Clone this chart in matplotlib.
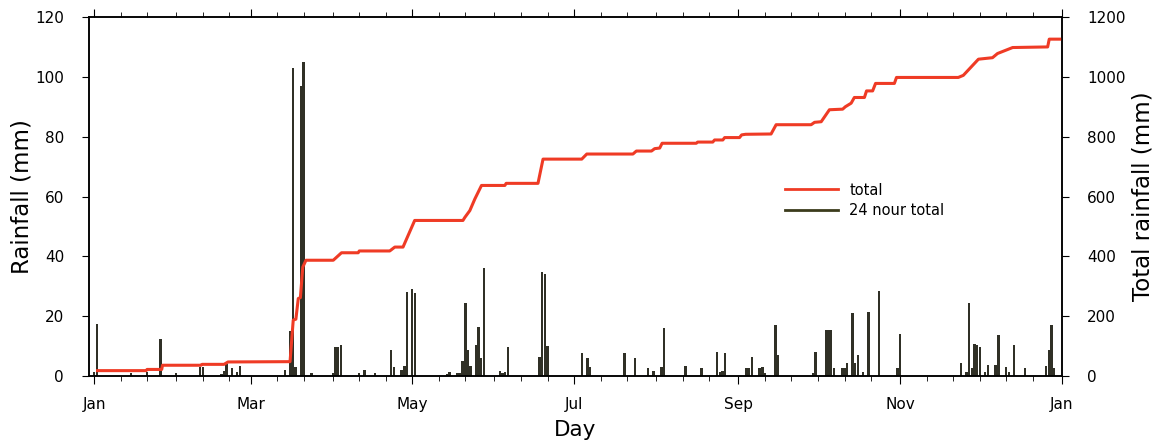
import numpy as np
import matplotlib.pyplot as plt
from matplotlib.lines import Line2D

# daily rainfall (day 0 = 1 Jan), mm
rain_day = [0, 1, 14, 20, 25, 31, 40, 41, 48, 49, 50, 52, 54, 55,
            72, 74, 75, 76, 78, 79, 82,
            90, 91, 92, 93, 100, 102, 106, 112, 113, 116, 117, 118, 120, 121,
            133, 134, 137, 138, 139, 140, 141, 142, 144, 145, 146, 147,
            153, 154, 155, 156, 168, 169, 170, 171,
            184, 186, 187, 200, 204, 209, 211, 214, 215, 223, 229, 235, 236, 237, 238,
            246, 247, 248, 251, 252, 253, 257, 258,
            271, 272, 276, 277, 278, 279, 282, 283, 284, 286, 287, 288, 290, 292, 296, 303, 304,
            327, 329, 330, 331, 332, 333, 334, 336, 337, 340, 341, 344, 345, 347, 351,
            359, 360, 361, 362]
rain_mm = [1.2, 17.5, 1.0, 1.5, 12.5, 1.0, 3.0, 3.0, 0.7, 1.8, 4.0, 2.8, 1.5, 3.3,
           2.0, 15.0, 103.0, 3.0, 97.0, 105.0, 1.0,
           1.0, 9.6, 9.8, 10.3, 1.1, 2.0, 0.9, 8.7, 2.9, 2.0, 3.3, 28.1, 29.2, 27.8,
           0.7, 1.2, 0.9, 0.9, 5.0, 24.4, 8.7, 3.3, 10.3, 16.4, 5.9, 36.2,
           1.8, 1.1, 1.4, 9.6, 6.4, 34.8, 34.0, 10.0,
           7.6, 5.9, 3.1, 7.6, 5.9, 2.6, 1.8, 3.1, 15.9, 3.3, 2.6, 7.9, 1.4, 1.8, 7.6,
           2.6, 2.6, 6.2, 2.6, 2.9, 1.1, 17.0, 7.0,
           0.9, 8.0, 15.3, 15.3, 15.3, 2.6, 2.6, 2.6, 4.2, 21.2, 4.2, 7.0, 1.2, 21.4, 28.4, 2.7, 14.0,
           4.2, 1.5, 24.4, 2.7, 10.7, 10.3, 9.8, 1.2, 3.8, 3.8, 13.7, 3.1, 1.2, 10.3, 2.7,
           3.4, 8.7, 17.0, 2.7]

# running total, mm
total_day = [1.3, 19.6, 20.0, 25.5, 25.8, 40.3, 40.7, 49.0, 50.5, 73.9, 75.1, 76.1,
             77.0, 77.8, 78.7, 79.9, 90.2, 93.3, 99.6, 100.0, 111.5, 113.4, 116.5,
             120.9, 139.1, 139.8, 141.7, 143.6, 146.1, 154.9, 155.4, 167.4, 169.3,
             183.9, 185.8, 203.2, 204.5, 210.2, 211.4, 213.3, 214.2, 227.1, 227.6,
             233.3, 234.0, 237.1, 237.8, 243.4, 244.2, 245.7, 255.3, 257.2, 270.4,
             271.7, 274.2, 277.3, 282.3, 283.3, 285.5, 286.7, 290.5, 291.3, 293.6,
             294.7, 301.8, 302.6, 325.9, 327.8, 333.5, 338.8, 340.7, 346.4, 359.6,
             360.2, 365.0]
total_mm = [18, 18, 22, 22, 36, 36, 39, 39, 47, 48, 187, 190,
            259, 262, 364, 387, 387, 412, 412, 418, 418, 431, 431,
            520, 520, 530, 553, 592, 637, 637, 644, 644, 725,
            725, 742, 742, 752, 752, 760, 762, 778, 778, 782,
            782, 789, 789, 797, 797, 806, 808, 809, 840, 840,
            848, 850, 890, 892, 900, 912, 931, 931, 953, 953,
            978, 978, 998, 998, 1005, 1059, 1064, 1078, 1098, 1100,
            1126, 1126]

month_len = [31, 28, 31, 30, 31, 30, 31, 31, 30, 31, 30, 31]
month_start = np.concatenate([[0], np.cumsum(month_len)])
major_labels = ['Jan', 'Mar', 'May', 'Jul', 'Sep', 'Nov', 'Jan']

bar_color = '#303026'
line_color = '#ef3b25'

fig = plt.figure(figsize=(11.61, 4.43), dpi=100)
ax = fig.add_axes([0.0767, 0.1512, 0.8380, 0.8104])

ax.bar(rain_day, rain_mm, width=0.9, color=bar_color, linewidth=0)
ax.set_ylim(0, 120)
ax.set_yticks(np.arange(0, 121, 20))
ax.set_xlim(-1.9, 365)

majors = month_start[::2]
minors = sorted(set(np.concatenate([month_start[:-1] + k for k in (0, 10, 20)])) - set(majors))
ax.set_xticks(majors)
ax.set_xticklabels(major_labels)
ax.set_xticks(minors, minor=True)

ax.tick_params(axis='x', which='major', direction='out', length=6, top=True,
               labelsize=11, pad=9)
ax.tick_params(axis='x', which='minor', direction='out', length=3.5, top=True)
ax.tick_params(axis='y', direction='out', length=5, labelsize=11, pad=13)
ax.set_xlabel('Day', fontsize=15.5, labelpad=6)
ax.set_ylabel('Rainfall (mm)', fontsize=16.5, labelpad=1)

ax2 = ax.twinx()
ax2.plot(total_day, total_mm, color=line_color, linewidth=2.2)
ax2.set_ylim(0, 1200)
ax2.set_yticks(np.arange(0, 1201, 200))
ax2.tick_params(axis='y', direction='out', length=5, labelsize=11, pad=13)
ax2.set_ylabel('Total rainfall (mm)', fontsize=16.5, labelpad=4)

for a in (ax, ax2):
    for s in a.spines.values():
        s.set_linewidth(1.1)

handles = [Line2D([], [], color=line_color, linewidth=2),
           Line2D([], [], color='#3b3b1c', linewidth=2)]
ax2.legend(handles, ['total', '24 nour total'], loc='center left',
           bbox_to_anchor=(0.702, 0.49), frameon=False, fontsize=10.5,
           handlelength=3.6, labelspacing=0.35, handletextpad=0.8)

fig.savefig('out.png', dpi=100)
